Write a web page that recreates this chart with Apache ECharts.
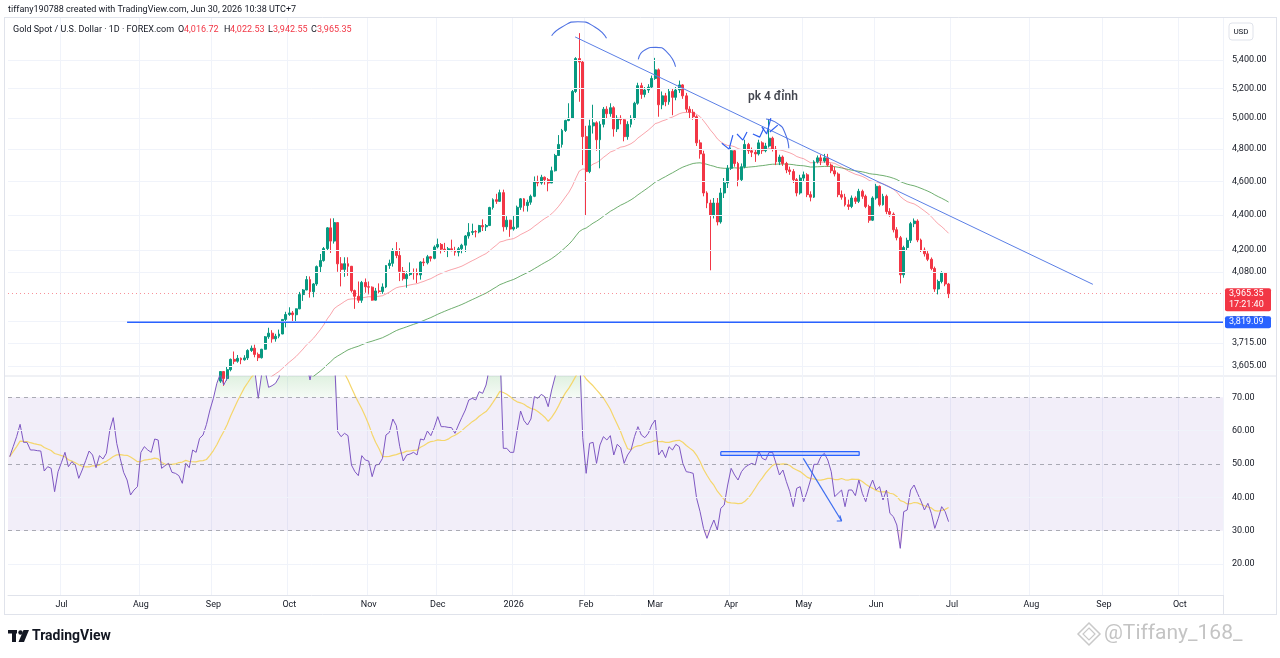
<!DOCTYPE html>
<html>
<head>
<meta charset="utf-8">
<title>Gold Spot / U.S. Dollar - 1D</title>
<script src="https://cdn.jsdelivr.net/npm/echarts@6.0.0/dist/echarts.min.js"></script>
<style>
  html, body { margin: 0; padding: 0; background: #ffffff; }
  #main { width: 1280px; height: 658px; }
</style>
</head>
<body>
<div id="main"></div>
<script>
// daily closes before the visible part (Jun 10 - Aug 29 2025), only used to warm up the EMAs
var warmupCloses = [
  3322, 3355, 3387, 3433, 3385, 3388, 3369, 3369, 3368, 3368, 3323, 3333, 3327, 3274, 3303,
  3338, 3357, 3326, 3337, 3336, 3301, 3313, 3325, 3355, 3343, 3324, 3347, 3339, 3350, 3397,
  3431, 3387, 3368, 3337, 3314, 3326, 3275, 3289,
  3363, 3373, 3380, 3368, 3397, 3398, 3343, 3348, 3356, 3335, 3336, 3332, 3315, 3348, 3339,
  3372, 3365, 3393, 3397, 3416, 3448
];

// candles from Sep 1 2025 to Jun 30 2026 (open = previous close)
var closes = [
  3477, 3533, 3578, 3545, 3587, 3636, 3627, 3641, 3634, 3643, 3679, 3690, 3660, 3644, 3685,
  3746, 3764, 3736, 3749, 3760, 3833, 3858,
  3866, 3857, 3887, 3961, 3985, 4040, 3976, 4017, 4110, 4143, 4209, 4326, 4251, 4356, 4125,
  4095, 4126, 4112, 3982, 3952, 3931, 4025, 4002,
  4000, 3932, 3980, 3977, 4001, 4116, 4128, 4195, 4171, 4084, 4045, 4067, 4078, 4077, 4065,
  4135, 4131, 4164, 4155, 4218,
  4232, 4206, 4200, 4208, 4198, 4189, 4208, 4228, 4280, 4300, 4305, 4303, 4339, 4332, 4339,
  4444, 4490, 4480, 4532, 4332, 4370, 4319,
  4330, 4445, 4495, 4455, 4475, 4510, 4600, 4590, 4625, 4610, 4590, 4665, 4760, 4830, 4920,
  4985, 5000, 5180, 5410, 5385, 4880,
  4660, 4950, 4970, 4860, 4960, 5060, 5030, 5070, 4930, 5000, 4990, 4880, 4960, 5000, 5100,
  5220, 5160, 5190, 5210, 5270,
  5330, 5090, 5150, 5110, 5180, 5140, 5190, 5225, 5150, 5060, 5040, 5010, 4840, 4770, 4530,
  4470, 4400, 4470, 4360, 4530, 4590, 4680,
  4790, 4710, 4610, 4690, 4830, 4790, 4780, 4770, 4840, 4790, 4820, 4870, 4800, 4720, 4750,
  4710, 4670, 4660, 4610, 4530, 4620,
  4640, 4520, 4505, 4720, 4745, 4725, 4745, 4700, 4665, 4645, 4520, 4505, 4460, 4450, 4500,
  4480, 4540, 4510, 4450, 4370, 4500,
  4570, 4460, 4510, 4420, 4405, 4315, 4270, 4066, 4215, 4255, 4350, 4365, 4257, 4201, 4180,
  4150, 4100, 3990, 4030, 4075, 4016.72, 3965.35
];
var highs = [
  3489, 3540, 3578, 3566, 3600, 3640, 3674, 3657, 3645, 3656, 3685, 3703, 3707, 3669, 3687,
  3750, 3791, 3779, 3761, 3782, 3834, 3872,
  3895, 3876, 3889, 3975, 3990, 4059, 4057, 4022, 4116, 4179, 4218, 4330, 4380, 4381, 4358,
  4162, 4161, 4161, 4097, 3987, 4030, 4033, 4046,
  4030, 4004, 3996, 4020, 4020, 4118, 4148, 4211, 4245, 4211, 4108, 4085, 4133, 4100, 4100,
  4139, 4156, 4174, 4168, 4227,
  4265, 4240, 4241, 4218, 4259, 4219, 4218, 4236, 4285, 4353, 4350, 4313, 4343, 4375, 4348,
  4448, 4498, 4525, 4550, 4550, 4393, 4372,
  4400, 4455, 4500, 4500, 4490, 4520, 4630, 4635, 4640, 4630, 4620, 4690, 4770, 4890, 4930,
  4990, 5100, 5190, 5420, 5595, 5400,
  4950, 4990, 5090, 4980, 4980, 5075, 5080, 5100, 5080, 5020, 5020, 5000, 4980, 5020, 5110,
  5240, 5240, 5210, 5230, 5290,
  5415, 5340, 5180, 5170, 5200, 5200, 5210, 5255, 5230, 5170, 5080, 5060, 5020, 4860, 4790,
  4540, 4490, 4500, 4500, 4560, 4620, 4700,
  4810, 4800, 4720, 4710, 4860, 4840, 4810, 4800, 4860, 4850, 4840, 5000, 4880, 4820, 4765,
  4760, 4720, 4690, 4675, 4620, 4640,
  4660, 4650, 4540, 4730, 4760, 4765, 4770, 4770, 4710, 4690, 4655, 4545, 4525, 4490, 4515,
  4510, 4555, 4550, 4520, 4460, 4510,
  4585, 4575, 4525, 4520, 4440, 4415, 4330, 4280, 4225, 4270, 4360, 4380, 4375, 4265, 4215,
  4195, 4160, 4110, 4040, 4085, 4080, 4022.53
];
var lows = [
  3436, 3470, 3525, 3511, 3535, 3579, 3613, 3620, 3613, 3630, 3633, 3672, 3646, 3628, 3640,
  3683, 3736, 3717, 3722, 3739, 3759, 3793,
  3851, 3820, 3820, 3885, 3928, 3984, 3945, 3947, 4007, 4080, 4137, 4199, 4185, 4237, 4082,
  4004, 4055, 4060, 3972, 3887, 3918, 3918, 3971,
  3962, 3929, 3930, 3967, 3965, 3995, 4098, 4110, 4156, 4032, 4035, 3997, 4060, 4040, 4022,
  4040, 4113, 4122, 4138, 4150,
  4210, 4182, 4190, 4162, 4194, 4170, 4166, 4183, 4190, 4265, 4285, 4272, 4295, 4308, 4308,
  4341, 4432, 4465, 4478, 4305, 4315, 4275,
  4310, 4320, 4430, 4420, 4420, 4460, 4505, 4570, 4580, 4580, 4540, 4600, 4660, 4760, 4810,
  4910, 4980, 5000, 5170, 5110, 4700,
  4400, 4650, 4900, 4790, 4680, 4940, 5000, 5010, 4880, 4910, 4960, 4850, 4860, 4940, 4990,
  5090, 5130, 5140, 5170, 5200,
  5260, 5010, 5060, 5080, 5090, 5020, 5120, 5170, 5130, 5040, 5000, 4990, 4820, 4740, 4510,
  4440, 4090, 4380, 4340, 4350, 4500, 4560,
  4670, 4690, 4570, 4600, 4680, 4770, 4750, 4720, 4760, 4770, 4780, 4810, 4785, 4700, 4700,
  4695, 4650, 4640, 4590, 4510, 4520,
  4600, 4505, 4480, 4500, 4710, 4700, 4715, 4690, 4650, 4630, 4505, 4490, 4450, 4430, 4440,
  4465, 4470, 4495, 4440, 4355, 4365,
  4490, 4450, 4455, 4405, 4390, 4300, 4255, 4020, 4050, 4200, 4240, 4330, 4245, 4190, 4165,
  4140, 4090, 3975, 3962, 4020, 4005, 3942.55
];

var rsiValues = [
  52.2, 55.2, 58.2, 61.9, 56.5, 56.5, 54.2, 54.2, 54.0, 53.9,
  47.9, 49.2, 48.7, 41.7, 47.7, 50.5, 53.5, 49.2, 50.7, 49.7,
  45.7, 48.2, 51.0, 53.9, 52.7, 48.9, 52.5, 51.5, 53.2, 60.2,
  63.9, 56.2, 51.7, 47.5, 45.2, 40.7, 42.2, 43.2, 53.5, 55.2,
  54.2, 53.5, 57.5, 57.2, 48.7, 49.5, 50.2, 47.5, 47.2, 46.5,
  44.2, 50.2, 48.9, 54.2, 53.5, 57.7, 58.7, 61.9, 66.2, 69.7,
  74.2, 77.0, 73.7, 75.7, 80.0, 82.0, 80.0, 83.0, 81.0, 79.0,
  81.0, 78.0, 69.7, 77.0, 78.0, 73.0, 73.5, 74.2, 76.0, 80.0,
  82.0, 84.0, 83.0, 85.0, 86.0, 82.0, 80.0, 75.2, 80.0, 83.0,
  85.0, 87.0, 84.0, 77.0, 84.0, 59.7, 58.2, 59.2, 58.5, 49.7,
  47.7, 46.5, 52.5, 51.2, 50.9, 46.2, 49.7, 49.9, 51.7, 58.7,
  59.5, 63.5, 61.5, 55.2, 50.9, 52.7, 53.0, 53.5, 52.7, 57.5,
  57.2, 59.9, 58.5, 61.0, 64.2, 61.2, 61.2, 61.0, 60.9, 59.2,
  61.7, 64.0, 66.2, 69.2, 69.7, 69.2, 71.7, 71.2, 73.7, 79.0,
  82.0, 83.0, 85.0, 54.7, 54.7, 53.5, 53.5, 60.0, 65.9, 63.0,
  61.7, 63.5, 70.2, 69.7, 70.9, 70.2, 67.2, 72.2, 76.2, 80.0,
  83.0, 85.0, 86.0, 87.0, 88.0, 86.0, 58.0, 47.2, 56.2, 56.5,
  50.2, 55.7, 58.2, 57.2, 58.5, 52.7, 55.9, 54.9, 50.2, 52.7,
  54.2, 58.2, 61.2, 58.7, 57.9, 59.2, 61.7, 63.2, 52.7, 54.2,
  51.9, 55.2, 54.2, 55.9, 55.2, 50.2, 47.7, 47.5, 47.2, 39.7,
  35.7, 30.7, 27.7, 30.7, 33.2, 30.2, 36.7, 37.7, 43.7, 48.7,
  46.7, 45.2, 47.7, 49.0, 49.7, 50.2, 49.7, 53.9, 51.7, 51.2,
  53.5, 53.5, 50.2, 46.7, 48.2, 44.7, 41.7, 37.2, 42.7, 43.2,
  38.7, 41.7, 45.2, 49.9, 49.9, 52.2, 53.2, 51.2, 47.7, 40.2,
  41.2, 42.2, 37.2, 42.2, 42.2, 40.5, 45.2, 41.2, 38.7, 42.7,
  45.2, 42.2, 43.2, 39.2, 42.2, 35.2, 34.2, 31.7, 24.7, 35.7,
  36.2, 42.2, 43.7, 41.2, 38.9, 36.2, 38.2, 35.2, 30.7, 33.7,
  37.2, 35.7, 32.7
];

var priceTicks = [3605, 3715, 3825, 4080, 4200, 4400, 4600, 4800, 5000, 5200, 5400];
var rsiTicks = [20, 30, 40, 50, 60, 70];
var rsiDashed = [30, 50, 70];
var monthNames = ['Jan', 'Feb', 'Mar', 'Apr', 'May', 'Jun', 'Jul', 'Aug', 'Sep', 'Oct', 'Nov', 'Dec'];
var holidays = ['2025-12-25', '2026-01-01', '2026-04-03'];

var levelPrice = 3819.09;
var lastClose = closes[closes.length - 1];

// drawings, in bar position (bar i is centred on i + 0.5) and price / RSI value
var trendLine = [[164.3, 5567], [314.3, 4015]];
var levelRay = [[34.5, levelPrice], [352, levelPrice]];
var arcs = [
  [[157.5, 5576], [160.5, 5641], [165.1, 5680], [170.0, 5641], [173.4, 5557]],
  [[182.6, 5405], [184.5, 5472], [187.7, 5491], [190.9, 5457], [193.4, 5352]],
  [[219.6, 4995], [223.1, 4963], [225.1, 4904], [226.2, 4806]]
];
var ticks = [
  [[206.8, 4838], [208.9, 4800], [210.0, 4890]],
  [[211.2, 4897], [212.9, 4858], [214.1, 4910]],
  [[215.8, 4897], [217.8, 4877], [219.0, 4936]],
  [[218.4, 4943], [219.8, 4897], [221.0, 5001]],
  [[220.7, 4910], [223.0, 4955]]
];
var noteText = {pos: [221.6, 5142], text: 'pk 4 đỉnh'};
var rsiBox = [[206.5, 53.7], [246.6, 53.7], [246.6, 52.6], [206.5, 52.6], [206.5, 53.7]];
var rsiArrow = [[230.4, 51.7], [241.5, 32.9]];
var rsiArrowHead = [[240.1, 32.9], [241.5, 32.9], [241.0, 34.6]];

// trading days on the time axis
var N = 352;
var dates = [];
var d = new Date(Date.UTC(2025, 5, 10));
while (dates.length < N) {
  var wd = d.getUTCDay();
  var s = d.toISOString().slice(0, 10);
  if (wd !== 0 && wd !== 6 && holidays.indexOf(s) < 0) dates.push(s);
  d.setUTCDate(d.getUTCDate() + 1);
}

var nWarm = warmupCloses.length;
var allCloses = warmupCloses.concat(closes);

function ema(src, n) {
  var a = 2 / (n + 1), out = [], e = src[0];
  for (var i = 0; i < src.length; i++) {
    e = i === 0 ? src[0] : a * src[i] + (1 - a) * e;
    out.push(+e.toFixed(2));
  }
  return out;
}
function sma(src, n) {
  var out = [];
  for (var i = 0; i < src.length; i++) {
    var from = Math.max(0, i - n + 1), sum = 0;
    for (var j = from; j <= i; j++) sum += src[j];
    out.push(+(sum / (i - from + 1)).toFixed(2));
  }
  return out;
}
function pad(arr) {
  var out = arr.slice();
  while (out.length < N) out.push('-');
  return out;
}
function fmt(v) {
  return v.toLocaleString('en-US', {minimumFractionDigits: 2, maximumFractionDigits: 2});
}
function monthStart(idx) {
  return idx > 0 && dates[idx].slice(0, 7) !== dates[idx - 1].slice(0, 7);
}
function monthLabel(v) {
  var m = +v.slice(5, 7);
  return m === 1 ? v.slice(0, 4) : monthNames[m - 1];
}

var candles = dates.map(function (dt, i) {
  var k = i - nWarm;
  if (k < 0 || k >= closes.length) return '-';
  var o = k === 0 ? warmupCloses[nWarm - 1] : closes[k - 1];
  return [o, closes[k], lows[k], highs[k]];
});
var ema34 = pad(ema(allCloses, 34));
var ema89 = pad(ema(allCloses, 89));
var rsiMa = pad(sma(rsiValues, 14));
var rsiLine = pad(rsiValues);
var obBase = pad(rsiValues.map(function () { return 70; }));
var obExtra = pad(rsiValues.map(function (v) { return v > 70 ? +(v - 70).toFixed(2) : 0; }));
var osBase = pad(rsiValues.map(function (v) { return Math.min(v, 30); }));
var osExtra = pad(rsiValues.map(function (v) { return v < 30 ? +(30 - v).toFixed(2) : 0; }));

var FONT = 'Roboto, "Noto Sans", "DejaVu Sans", sans-serif';
var gridColor = '#f0f3fa';
var frameColor = '#e0e3eb';
var textColor = '#131722';
var upColor = '#089981';
var downColor = '#F23645';

function drawing(data, color, width, xi, yi, smooth) {
  return {
    type: 'line', xAxisIndex: xi, yAxisIndex: yi, data: data, smooth: smooth || false,
    showSymbol: false, silent: true, z: 6,
    lineStyle: {color: color, width: width}
  };
}

var series = [
  {
    name: 'EMA 89', type: 'line', xAxisIndex: 0, yAxisIndex: 0, data: ema89,
    showSymbol: false, silent: true, z: 2,
    lineStyle: {color: 'rgba(86,160,86,0.85)', width: 1},
    markLine: {
      silent: true, symbol: ['none', 'none'], animation: false,
      lineStyle: {color: gridColor, width: 1, type: 'solid'},
      label: {show: true, position: 'end', formatter: '{b}', color: textColor, fontSize: 9, distance: 9, fontFamily: FONT},
      data: priceTicks.map(function (v) { return {yAxis: v, name: fmt(v)}; })
    }
  },
  {
    name: 'EMA 34', type: 'line', xAxisIndex: 0, yAxisIndex: 0, data: ema34,
    showSymbol: false, silent: true, z: 2,
    lineStyle: {color: 'rgba(242,54,69,0.45)', width: 1}
  },
  {
    name: 'XAUUSD', type: 'candlestick', xAxisIndex: 0, yAxisIndex: 0, data: candles,
    barWidth: 2.4, z: 3,
    itemStyle: {color: upColor, color0: downColor, borderColor: upColor, borderColor0: downColor, borderWidth: 1},
    markLine: {
      silent: true, symbol: ['none', 'none'], animation: false,
      lineStyle: {color: 'rgba(242,54,69,0.55)', width: 1, type: [1, 3]},
      label: {show: false},
      data: [{yAxis: lastClose}]
    }
  },
  drawing(levelRay, '#2962FF', 1.6, 2, 0),
  drawing(trendLine, '#5b7fe6', 1, 2, 0),
  {
    type: 'scatter', xAxisIndex: 2, yAxisIndex: 0, data: [noteText.pos], symbolSize: 0, silent: true, z: 7,
    label: {show: true, position: 'inside', formatter: noteText.text, color: textColor, fontSize: 12, fontWeight: 600, fontFamily: FONT}
  },
  // RSI pane
  {
    name: 'band', type: 'line', xAxisIndex: 1, yAxisIndex: 1, data: obBase, stack: 'ob',
    showSymbol: false, silent: true, z: 1, lineStyle: {width: 0, opacity: 0},
    markArea: {
      silent: true,
      itemStyle: {color: 'rgba(126,87,194,0.1)'},
      data: [[{yAxis: 30}, {yAxis: 70}]]
    },
    markLine: {
      silent: true, symbol: ['none', 'none'], animation: false,
      label: {show: true, position: 'end', formatter: '{b}', color: textColor, fontSize: 9, distance: 9, fontFamily: FONT},
      data: rsiTicks.map(function (v) {
        var dashed = rsiDashed.indexOf(v) >= 0;
        return {
          yAxis: v, name: fmt(v),
          lineStyle: dashed ? {color: 'rgba(120,123,134,0.6)', type: [4, 4], width: 1} : {color: gridColor, type: 'solid', width: 1}
        };
      })
    }
  },
  {
    type: 'line', xAxisIndex: 1, yAxisIndex: 1, data: obExtra, stack: 'ob',
    showSymbol: false, silent: true, z: 1, lineStyle: {width: 0, opacity: 0},
    areaStyle: {
      color: new echarts.graphic.LinearGradient(0, 0, 0, 1, [
        {offset: 0, color: 'rgba(76,175,80,0.55)'},
        {offset: 1, color: 'rgba(76,175,80,0.08)'}
      ])
    }
  },
  {
    type: 'line', xAxisIndex: 1, yAxisIndex: 1, data: osBase, stack: 'os',
    showSymbol: false, silent: true, z: 1, lineStyle: {width: 0, opacity: 0}
  },
  {
    type: 'line', xAxisIndex: 1, yAxisIndex: 1, data: osExtra, stack: 'os',
    showSymbol: false, silent: true, z: 1, lineStyle: {width: 0, opacity: 0},
    areaStyle: {color: 'rgba(242,54,69,0.15)'}
  },
  {
    name: 'RSI-based MA', type: 'line', xAxisIndex: 1, yAxisIndex: 1, data: rsiMa,
    showSymbol: false, silent: true, z: 3,
    lineStyle: {color: '#F5D66B', width: 1.2}
  },
  {
    name: 'RSI', type: 'line', xAxisIndex: 1, yAxisIndex: 1, data: rsiLine,
    showSymbol: false, silent: true, z: 4,
    lineStyle: {color: '#7E57C2', width: 1}
  },
  {
    type: 'line', xAxisIndex: 3, yAxisIndex: 1, data: rsiBox, showSymbol: false, silent: true, z: 6,
    lineStyle: {color: '#2962FF', width: 1.2},
    areaStyle: {color: 'rgba(41,98,255,0.18)', origin: 'start'}
  },
  drawing(rsiArrow, '#3b6cf0', 1.2, 3, 1),
  drawing(rsiArrowHead, '#3b6cf0', 1.2, 3, 1)
];
arcs.forEach(function (a) { series.push(drawing(a, '#4f72e3', 1.1, 2, 0, 0.6)); });
ticks.forEach(function (t) { series.push(drawing(t, '#2f5ff0', 1.2, 2, 0)); });

var statics = [
  {type: 'line', shape: {x1: 4, y1: 17.5, x2: 1277, y2: 17.5}, style: {stroke: frameColor}},
  {type: 'line', shape: {x1: 4, y1: 614.5, x2: 1277, y2: 614.5}, style: {stroke: frameColor}},
  {type: 'line', shape: {x1: 4.5, y1: 17, x2: 4.5, y2: 615}, style: {stroke: frameColor}},
  {type: 'line', shape: {x1: 1276.5, y1: 17, x2: 1276.5, y2: 615}, style: {stroke: frameColor}},
  {type: 'line', shape: {x1: 4, y1: 376, x2: 1277, y2: 376}, style: {stroke: frameColor}},
  {type: 'line', shape: {x1: 1223.5, y1: 17, x2: 1223.5, y2: 615}, style: {stroke: frameColor}},
  {type: 'rect', shape: {x: 1229, y: 23, width: 24, height: 17, r: 3}, style: {fill: '#ffffff', stroke: frameColor}, z: 50},
  {type: 'text', x: 1241, y: 32, z: 51, style: {text: 'USD', fill: textColor, font: '8px ' + FONT, align: 'center', verticalAlign: 'middle'}},
  {type: 'text', x: 8, y: 10, z: 50, style: {text: 'tiffany190788 created with TradingView.com, Jun 30, 2026 10:38 UTC+7', fill: textColor, font: '9px ' + FONT, verticalAlign: 'middle'}},
  {type: 'text', x: 13, y: 30, z: 50, style: {text: 'Gold Spot / U.S. Dollar · 1D · FOREX.com', fill: textColor, font: '9px ' + FONT, verticalAlign: 'middle'}},
  {type: 'text', x: 178, y: 30, z: 50, style: {text: 'O', fill: textColor, font: '9px ' + FONT, verticalAlign: 'middle'}},
  {type: 'text', x: 184, y: 30, z: 50, style: {text: '4,016.72', fill: downColor, font: '9px ' + FONT, verticalAlign: 'middle'}},
  {type: 'text', x: 224, y: 30, z: 50, style: {text: 'H', fill: textColor, font: '9px ' + FONT, verticalAlign: 'middle'}},
  {type: 'text', x: 230, y: 30, z: 50, style: {text: '4,022.53', fill: downColor, font: '9px ' + FONT, verticalAlign: 'middle'}},
  {type: 'text', x: 268, y: 30, z: 50, style: {text: 'L', fill: textColor, font: '9px ' + FONT, verticalAlign: 'middle'}},
  {type: 'text', x: 273, y: 30, z: 50, style: {text: '3,942.55', fill: downColor, font: '9px ' + FONT, verticalAlign: 'middle'}},
  {type: 'text', x: 311, y: 30, z: 50, style: {text: 'C', fill: textColor, font: '9px ' + FONT, verticalAlign: 'middle'}},
  {type: 'text', x: 317, y: 30, z: 50, style: {text: '3,965.35', fill: downColor, font: '9px ' + FONT, verticalAlign: 'middle'}},
  // TradingView mark: a "T", a dot and a slanted stroke
  {type: 'rect', shape: {x: 8, y: 630, width: 9, height: 3.5}, style: {fill: textColor}, z: 50},
  {type: 'rect', shape: {x: 12, y: 630, width: 4, height: 12}, style: {fill: textColor}, z: 50},
  {type: 'circle', shape: {cx: 20.5, cy: 632.5, r: 2.2}, style: {fill: textColor}, z: 50},
  {type: 'polygon', shape: {points: [[23.5, 630], [29, 630], [24, 642], [18.5, 642]]}, style: {fill: textColor}, z: 50},
  {type: 'text', x: 32, y: 636, z: 50, style: {text: 'TradingView', fill: textColor, font: 'bold 14px ' + FONT, verticalAlign: 'middle'}},
  {type: 'polygon', shape: {points: [[1089, 623], [1100, 634], [1089, 645], [1078, 634]]}, style: {fill: 'none', stroke: '#c9c9c9', lineWidth: 1.5}, z: 50},
  {type: 'polygon', shape: {points: [[1089, 628], [1095, 634], [1089, 640], [1083, 634]]}, style: {fill: 'none', stroke: '#c9c9c9', lineWidth: 1.2}, z: 50},
  {type: 'text', x: 1104, y: 634, z: 50, style: {text: '@Tiffany_168_', fill: '#c4c4c4', font: '21px ' + FONT, verticalAlign: 'middle'}}
];

var chart = echarts.init(document.getElementById('main'));
chart.setOption({
  animation: false,
  backgroundColor: '#ffffff',
  textStyle: {fontFamily: FONT},
  grid: [
    {left: 8, right: 57, top: 18, height: 358},
    {left: 8, right: 57, top: 376, height: 219}
  ],
  xAxis: [
    {
      type: 'category', gridIndex: 0, data: dates, boundaryGap: true,
      axisLine: {show: false}, axisTick: {show: false}, axisLabel: {show: false},
      splitLine: {show: true, interval: monthStart, lineStyle: {color: gridColor}}
    },
    {
      type: 'category', gridIndex: 1, data: dates, boundaryGap: true,
      axisLine: {show: true, lineStyle: {color: frameColor}}, axisTick: {show: false},
      axisLabel: {interval: monthStart, formatter: monthLabel, color: textColor, fontSize: 9, margin: 5, fontFamily: FONT},
      splitLine: {show: true, interval: monthStart, lineStyle: {color: gridColor}}
    },
    {type: 'value', gridIndex: 0, min: 0, max: N, show: false},
    {type: 'value', gridIndex: 1, min: 0, max: N, show: false}
  ],
  yAxis: [
    {
      type: 'log', logBase: 10, gridIndex: 0, min: 3557, max: 5708, position: 'right',
      axisLine: {show: false}, axisTick: {show: false}, axisLabel: {show: false}, splitLine: {show: false}
    },
    {
      type: 'value', gridIndex: 1, min: 10.7, max: 76.4, position: 'right',
      axisLine: {show: false}, axisTick: {show: false}, axisLabel: {show: false}, splitLine: {show: false}
    }
  ],
  series: series,
  graphic: statics
});

// price scale tags for the last close and the horizontal level
var yLast = chart.convertToPixel({yAxisIndex: 0}, lastClose);
var yLevel = chart.convertToPixel({yAxisIndex: 0}, levelPrice);
chart.setOption({
  graphic: statics.concat([
    {type: 'rect', z: 60, shape: {x: 1225, y: yLast - 5.5, width: 46, height: 23, r: 2}, style: {fill: downColor}},
    {type: 'text', z: 61, x: 1229, y: yLast, style: {text: fmt(lastClose), fill: '#ffffff', font: '9px ' + FONT, verticalAlign: 'middle'}},
    {type: 'text', z: 61, x: 1229, y: yLast + 11, style: {text: '17:21:40', fill: '#ffffff', font: '9px ' + FONT, verticalAlign: 'middle'}},
    {type: 'rect', z: 60, shape: {x: 1225, y: yLevel - 6, width: 46, height: 12, r: 2}, style: {fill: '#2962FF'}},
    {type: 'text', z: 61, x: 1229, y: yLevel, style: {text: fmt(levelPrice), fill: '#ffffff', font: '9px ' + FONT, verticalAlign: 'middle'}}
  ])
});
</script>
</body>
</html>
